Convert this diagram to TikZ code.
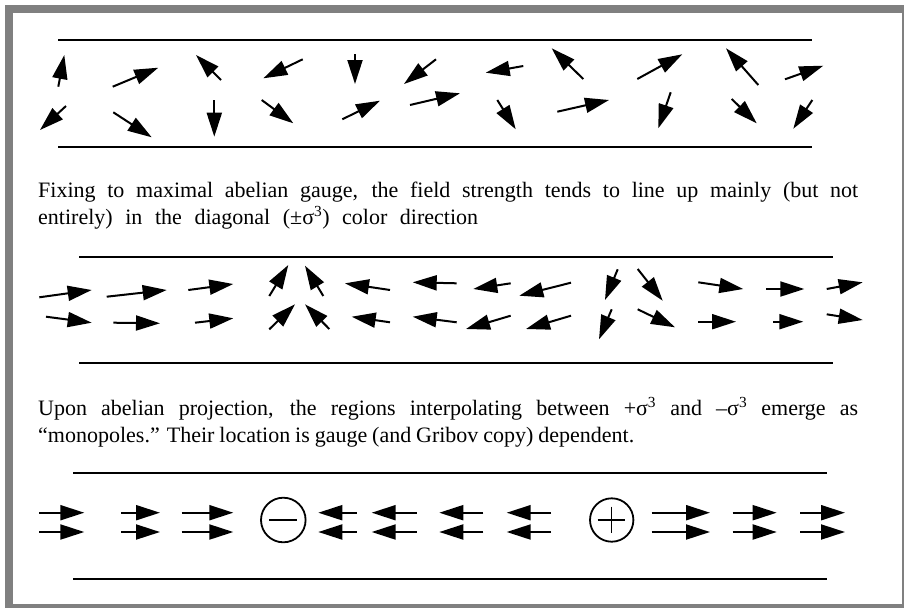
\documentclass[tikz,border=0pt]{standalone}
\usepackage{fontspec}
\setmainfont{Liberation Serif}
\usetikzlibrary{arrows.meta}
\definecolor{framegray}{RGB}{128,128,128}
\tikzset{
  fa/.style={line width=2pt, -{Triangle[length=24pt,width=15pt]}},
  rule/.style={line width=1.4pt},
  txt/.style={anchor=base west, inner sep=0pt, font=\fontsize{22}{27}\selectfont},
  mono/.style={line width=1.8pt},
  sign/.style={line width=1.2pt}
}
\begin{document}
\begin{tikzpicture}[x=1pt,y=-1pt]
\useasboundingbox (0,0) rectangle (904,608);
\fill[framegray] (5,5) rectangle (904,608);
\fill[white] (13,13) rectangle (902,604);

% ---------- panel 1 ----------
\draw[rule] (58,40) -- (812,40);
\draw[rule] (58,147) -- (812,147);
% row 1
\draw[fa] (58.3,86.7) -- (64.3,55);
\draw[fa] (112.7,86.7) -- (158.3,67.7);
\draw[fa] (221,80) -- (196,55);
\draw[fa] (302.7,59.3) -- (263.3,78.3);
\draw[fa] (355,54) -- (355,84);
\draw[fa] (436,59.3) -- (404,84);
\draw[fa] (523.3,66) -- (485.7,72.7);
\draw[fa] (583.3,79) -- (551.7,48.3);
\draw[fa] (637.3,79) -- (682.3,54.3);
\draw[fa] (758.3,85) -- (726,48.3);
\draw[fa] (785,79.3) -- (823.3,65.7);
% row 2
\draw[fa] (66,106) -- (40,130);
\draw[fa] (113.3,112.3) -- (151.7,137.3);
\draw[fa] (214.3,100) -- (214.3,136.7);
\draw[fa] (261.7,100) -- (293.3,123.3);
\draw[fa] (342.3,119.3) -- (380,100.7);
\draw[fa] (410,105) -- (460,93.3);
\draw[fa] (497.3,100) -- (515.7,129.3);
\draw[fa] (557.3,111.7) -- (609,100);
\draw[fa] (670.7,92.3) -- (658.3,128.3);
\draw[fa] (731.7,99) -- (756.7,123.3);
\draw[fa] (812.3,100) -- (793.3,128.7);

% ---------- text 1 ----------
\node[txt] (t1a) at (38,197) {\makebox[820pt][s]{Fixing to maximal abelian gauge, the field strength tends to line up mainly (but not}};
\node[txt] (t1b) at (38,224) {\makebox[440pt][s]{entirely) in the diagonal (±σ\textsuperscript{3}) color direction}};

% ---------- panel 2 ----------
\draw[rule] (79,257) -- (833,257);
\draw[rule] (79,363) -- (833,363);
% row 1
\draw[fa] (39.3,297.3) -- (91.7,290);
\draw[fa] (106.7,296.7) -- (166.7,290);
\draw[fa] (188.3,290) -- (233.3,284);
\draw[fa] (269.3,296) -- (288.3,265);
\draw[fa] (323.3,296) -- (305,265.7);
\draw[fa] (390,290) -- (345,283.3);
\draw[fa] (456.7,283.3) -- (412.7,282.3);
\draw[fa] (510.7,283.3) -- (473.3,289);
\draw[fa] (571,282.7) -- (519.3,295.7);
\draw[fa] (617.7,269.3) -- (605,300);
\draw[fa] (637.7,269) -- (662.7,300.7);
\draw[fa] (698.3,282.3) -- (743.3,289);
\draw[fa] (766,289) -- (804.3,289);
\draw[fa] (826.7,289) -- (862.7,282.3);
% row 2
\draw[fa] (46,316.7) -- (91.7,322.7);
\draw[fa] (113.3,322.7) -- (160,323.3);
\draw[fa] (195,322.7) -- (233.3,318.3);
\draw[fa] (269.3,329.3) -- (295,304.3);
\draw[fa] (329.3,329) -- (305,304.3);
\draw[fa] (390,322.3) -- (351.7,316.7);
\draw[fa] (456.7,322.3) -- (412.7,316.7);
\draw[fa] (510.7,315.7) -- (466,329);
\draw[fa] (571,315.7) -- (526,329);
\draw[fa] (611.7,309.3) -- (599,339.3);
\draw[fa] (637.7,309.3) -- (675,327.3);
\draw[fa] (698.3,321.7) -- (736,321.7);
\draw[fa] (773.3,321.7) -- (803.3,321.7);
\draw[fa] (826.7,314.3) -- (862.7,320);

% ---------- text 2 ----------
\node[txt] (t2a) at (38,415) {\makebox[820pt][s]{Upon abelian projection, the regions interpolating between +σ\textsuperscript{3} and –σ\textsuperscript{3} emerge as}};
\node[txt] (t2b) at (38,442) {\makebox[596pt][s]{“monopoles.” Their location is gauge (and Gribov copy) dependent.}};

% ---------- panel 3 ----------
\draw[rule] (73,473) -- (827,473);
\draw[rule] (73,579) -- (827,579);
\foreach \yy in {512.7,532} {
  \draw[fa] (39.3,\yy) -- (84.3,\yy);
  \draw[fa] (121,\yy) -- (160,\yy);
  \draw[fa] (181.7,\yy) -- (233.3,\yy);
  \draw[fa] (356.7,\yy) -- (318.3,\yy);
  \draw[fa] (416.7,\yy) -- (371.7,\yy);
  \draw[fa] (483.3,\yy) -- (439.3,\yy);
  \draw[fa] (551,\yy) -- (506.7,\yy);
  \draw[fa] (651.7,\yy) -- (710,\yy);
  \draw[fa] (732.7,\yy) -- (776.7,\yy);
  \draw[fa] (800,\yy) -- (845,\yy);
}
% monopoles
\node[draw, circle, mono, minimum size=44.6pt, inner sep=0pt] (minus) at (283.3,520) {};
\draw[sign] (269.3,520) -- (296.7,520);
\node[draw, circle, mono, minimum size=43.4pt, inner sep=0pt] (plus) at (611.7,520) {};
\draw[sign] (597.7,520) -- (625,520);
\draw[sign] (611.7,506.7) -- (611.7,532.7);
\end{tikzpicture}
\end{document}
